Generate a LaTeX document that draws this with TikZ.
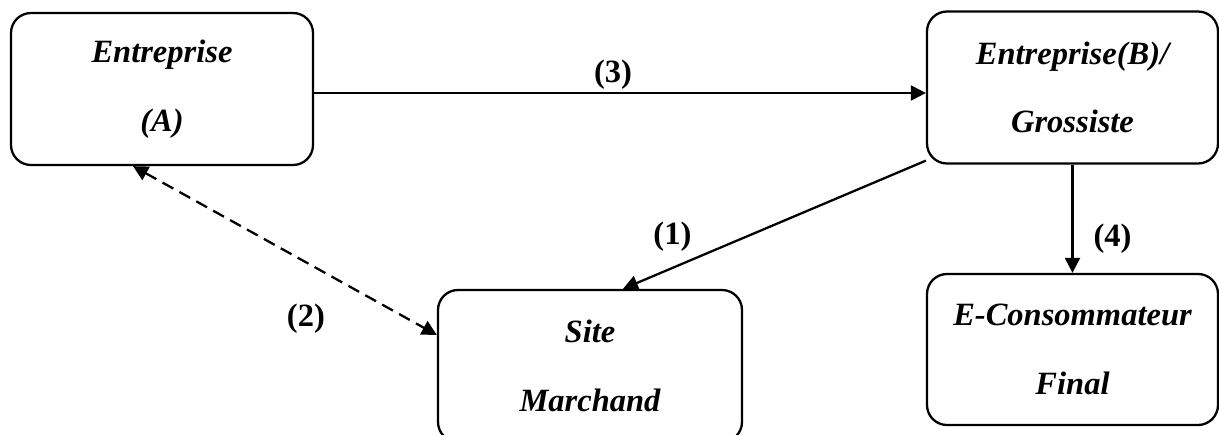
\documentclass[tikz,border=0pt]{standalone}
\usepackage{fontspec}
\setmainfont{Liberation Serif}
\usetikzlibrary{arrows.meta, positioning}

\begin{document}
\begin{tikzpicture}[
    >={Triangle[length=0.3cm, width=0.3cm]},
    line width=1.3pt,
    box/.style={draw, rounded corners=0.4cm, minimum width=6.04cm,
        minimum height=3.04cm, align=center, inner sep=0pt,
        font=\fontsize{18.5}{39}\selectfont\bfseries\itshape},
    lbl/.style={font=\fontsize{18.5}{22}\selectfont\bfseries, inner sep=0pt},
]
    \useasboundingbox (0,0) rectangle (24.38,8.68);

    \node[box]                         (A) at (3.24,6.9)   {Entreprise\\(A)};
    \node[box, minimum width=5.82cm]   (B) at (21.45,6.93) {Entreprise(B)/\\Grossiste};
    \node[box, minimum width=6.08cm]   (S) at (11.8,1.36)  {Site\\Marchand};
    \node[box, minimum width=5.82cm,
          minimum height=3.02cm]       (C) at (21.45,1.69) {E-Consommateur\\Final};

    \path[->]
        ([yshift=-0.08cm]A.east) edge node[lbl, xshift=-0.14cm, yshift=0.36cm] {(3)}
            ([yshift=-0.08cm]A.east -| B.west)
        ([yshift=0.08cm]B.south west) edge node[lbl, xshift=-2.04cm, yshift=-0.24cm] {(1)}
            ([xshift=0.66cm]S.north)
        (B.south) edge node[lbl, xshift=0.8cm, yshift=-0.39cm] {(4)} (C.north)
        ([xshift=-0.58cm]A.south) edge [<->, dash pattern=on 7pt off 4pt]
            node[lbl, xshift=0.42cm, yshift=-1.37cm] {(2)} ([yshift=0.62cm]S.west)
    ;
\end{tikzpicture}
\end{document}
